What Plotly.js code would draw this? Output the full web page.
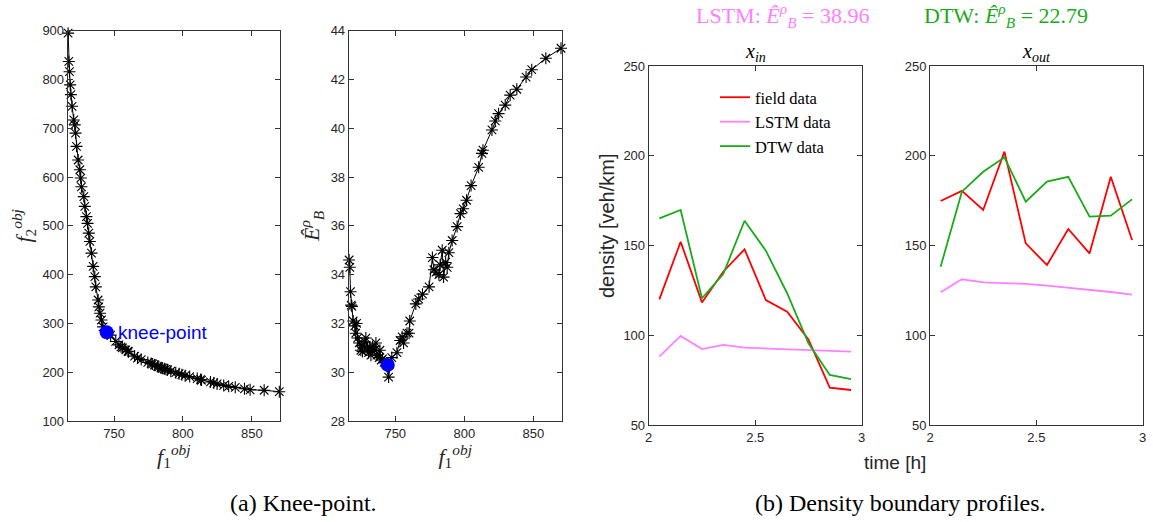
<!DOCTYPE html>
<html>
<head>
<meta charset="utf-8">
<script src="https://cdn.plot.ly/plotly-3.0.1.min.js"></script>
<style>html,body{margin:0;padding:0;background:#fff;}#chart{width:1153px;height:522px;}</style>
</head>
<body>
<div id="chart"></div>
<script>
// Pareto front: objective f1, objective f2, boundary error E_B
const f1 = [716.6,717.1,717.6,718.1,718.6,719.5,720.7,721.4,722,722.7,723.9,725.1,725.8,726.3,728,728.7,729.9,730.7,731.6,732.4,733.6,734.8,736,736.7,738.4,738.9,739.8,740.8,742,745.2,747.5,751.2,753.5,755,756,758.5,760,760.5,764.9,767,769.7,774.5,776.9,778,779.5,781.6,782.5,784,785,786.5,787.6,788.8,791.2,794.8,797.2,799.2,801.6,804.9,810.4,812.8,813.5,820,822.4,824.8,829.6,833.2,838,844.7,848.8,859,870];
const f2 = [895,837,816,789,769,745,717,707,690,663,635,615,598,580,560,540,519,505,485,468,444,417,396,375,348,334,321,307,293,279,276,263,256,252,250,246,243,242,233,229,226,220,218,217,215,212,211,209,208,207,206,205,202,199,197,195,193,191,187,185,184,180,178,176,173,171,169,166,164,163,160];
const EB = [34.6,34.3,33.3,32.75,32.7,32.1,31.9,31.6,32.0,31.4,31.2,30.9,31.1,30.85,31.25,31.4,31.0,30.8,31.0,30.7,31.05,30.9,31.2,30.7,30.6,30.9,30.5,30.55,30.4,29.8,30.6,30.8,31.3,31.45,31.2,31.6,31.6,32.1,32.8,33.0,33.2,33.5,34.7,34.2,34.1,34.0,34.4,35.0,33.9,34.5,34.3,34.9,35.4,35.97,36.5,36.7,37.05,37.65,38.4,38.97,39.1,39.93,40.3,40.6,40.95,41.36,41.6,42.1,42.4,42.87,43.28];
const kneeF1 = [744.6];
const kneeF2 = [282];
const kneeEB = [30.3];

// Density boundary profiles
const time = [2.05,2.15,2.25,2.35,2.45,2.55,2.65,2.75,2.85,2.95];
const fieldIn = [120,152.1,118.3,135.4,147.9,119.6,113.1,97.7,70.8,69.5];
const lstmIn  = [88.1,99.6,92.3,94.6,93.1,92.7,92.2,91.8,91.4,90.9];
const dtwIn   = [165.1,169.8,120.6,134.1,163.8,147.1,123.4,95.5,77.9,75.6];
const fieldOut = [174.8,180.4,169.8,202.3,151.2,139.1,159.2,145.6,188.3,153.1];
const lstmOut  = [123.9,131.2,129.5,129.1,128.6,127.6,126.5,125.4,124.1,122.6];
const dtwOut   = [138.2,180,191.1,199.1,174.4,185.6,188.3,166.1,166.6,175.7];

const RED = '#ff0000', PINK = '#ff80ff', GREEN = '#1aab1a';
const W = 1153, H = 522;
const px = v => v / W, py = v => 1 - v / H;

const starMarker = {symbol:'asterisk-open', size:10, color:'#000', line:{color:'#000', width:1.1}};
const traces = [
  {x:f1, y:f2, xaxis:'x', yaxis:'y', mode:'lines+markers', line:{color:'#000', width:1}, marker:starMarker, cliponaxis:false, showlegend:false},
  {x:kneeF1, y:kneeF2, xaxis:'x', yaxis:'y', mode:'markers', marker:{color:'#0000ff', size:14}, cliponaxis:false, showlegend:false},
  {x:f1, y:EB, xaxis:'x2', yaxis:'y2', mode:'lines+markers', line:{color:'#000', width:1}, marker:starMarker, cliponaxis:false, showlegend:false},
  {x:kneeF1, y:kneeEB, xaxis:'x2', yaxis:'y2', mode:'markers', marker:{color:'#0000ff', size:14}, cliponaxis:false, showlegend:false},
  {x:time, y:fieldIn, xaxis:'x3', yaxis:'y3', mode:'lines', name:'field data', line:{color:RED, width:1.8}},
  {x:time, y:lstmIn, xaxis:'x3', yaxis:'y3', mode:'lines', name:'LSTM data', line:{color:PINK, width:1.8}},
  {x:time, y:dtwIn, xaxis:'x3', yaxis:'y3', mode:'lines', name:'DTW data', line:{color:GREEN, width:1.8}},
  {x:time, y:fieldOut, xaxis:'x4', yaxis:'y4', mode:'lines', line:{color:RED, width:1.8}, showlegend:false},
  {x:time, y:lstmOut, xaxis:'x4', yaxis:'y4', mode:'lines', line:{color:PINK, width:1.8}, showlegend:false},
  {x:time, y:dtwOut, xaxis:'x4', yaxis:'y4', mode:'lines', line:{color:GREEN, width:1.8}, showlegend:false}
];

const AX = '#333333';
const tickFont = {family:'Liberation Sans, Arial, sans-serif', size:13, color:'#262626'};
const serif = 'Liberation Serif, Times New Roman, serif';
const sans = 'Liberation Sans, Arial, sans-serif';
function ax(domain, range, tickvals, extra) {
  return Object.assign({domain:domain, range:range, tickvals:tickvals, ticks:'inside', ticklen:5, tickcolor:AX,
    showline:true, linecolor:AX, linewidth:1, mirror:'ticks', showgrid:false, zeroline:false,
    tickfont:tickFont, fixedrange:true}, extra || {});
}
const yTop1 = py(30.7), yBot1 = py(421);
const yTop3 = py(66), yBot3 = py(425);
const titleFont = {family:serif, size:22, color:'#262626'};

function note(x, y, text, font, extra) {
  return Object.assign({xref:'paper', yref:'paper', x:px(x), y:py(y), text:text, showarrow:false,
    xanchor:'center', yanchor:'middle', font:font}, extra || {});
}

const layout = {
  width:W, height:H, margin:{l:0,r:0,t:0,b:0}, paper_bgcolor:'#fff', plot_bgcolor:'#fff',
  showlegend:true,
  legend:{x:px(715), y:py(80), xanchor:'left', yanchor:'top', bgcolor:'rgba(0,0,0,0)', borderwidth:0,
    font:{family:serif, size:16.5, color:'#000'}, tracegroupgap:0},
  xaxis: ax([px(67.7), px(280)], [716.3, 870.5], [750,800,850], {anchor:'y',
    title:{text:'<i>f</i><sub>1</sub><sup><i>obj</i></sup>', font:titleFont, standoff:2}}),
  yaxis: ax([yBot1, yTop1], [100, 900], [100,200,300,400,500,600,700,800,900], {anchor:'x',
    title:{text:'<i>f</i><sub>2</sub><sup><i>obj</i></sup>', font:titleFont, standoff:4}}),
  xaxis2: ax([px(348.7), px(561.7)], [716.3, 870.5], [750,800,850], {anchor:'y2',
    title:{text:'<i>f</i><sub>1</sub><sup><i>obj</i></sup>', font:titleFont, standoff:2}}),
  yaxis2: ax([yBot1, yTop1], [28, 44], [28,30,32,34,36,38,40,42,44], {anchor:'x2',
    title:{text:'<i>Ê</i><sup><i>ρ</i></sup><sub><i>B</i></sub>', font:titleFont, standoff:4}}),
  xaxis3: ax([px(648.7), px(861.7)], [2, 3], [2,2.5,3], {anchor:'y3'}),
  yaxis3: ax([yBot3, yTop3], [50, 250], [50,100,150,200,250], {anchor:'x3'}),
  xaxis4: ax([px(930), px(1142.7)], [2, 3], [2,2.5,3], {anchor:'y4'}),
  yaxis4: ax([yBot3, yTop3], [50, 250], [50,100,150,200,250], {anchor:'x4'}),
  annotations: [
    {xref:'x', yref:'y', x:kneeF1[0], y:kneeF2[0], text:'knee-point', showarrow:false, xanchor:'left', yanchor:'middle', xshift:9,
      font:{family:sans, size:19, color:'#0000ff'}},
    note(782, 15, 'LSTM: <i>Ê</i><sup><i>ρ</i></sup><sub><i>B</i></sub> = 38.96', {family:serif, size:22, color:PINK}),
    note(1006, 15, 'DTW: <i>Ê</i><sup><i>ρ</i></sup><sub><i>B</i></sub> = 22.79', {family:serif, size:22, color:GREEN}),
    note(755, 53, '<i>x</i><sub><i>in</i></sub>', {family:serif, size:20, color:'#000'}),
    note(1036, 53, '<i>x</i><sub><i>out</i></sub>', {family:serif, size:20, color:'#000'}),
    note(607, 226, 'density [veh/km]', {family:sans, size:20, color:'#262626'}, {textangle:-90}),
    note(895, 462, 'time [h]', {family:sans, size:19, color:'#262626'}),
    note(303, 503, '(a) Knee-point.', {family:serif, size:24, color:'#000'}),
    note(900, 503, '(b) Density boundary profiles.', {family:serif, size:24, color:'#000'})
  ]
};

Plotly.newPlot('chart', traces, layout, {staticPlot:true, displayModeBar:false});
</script>
</body>
</html>
